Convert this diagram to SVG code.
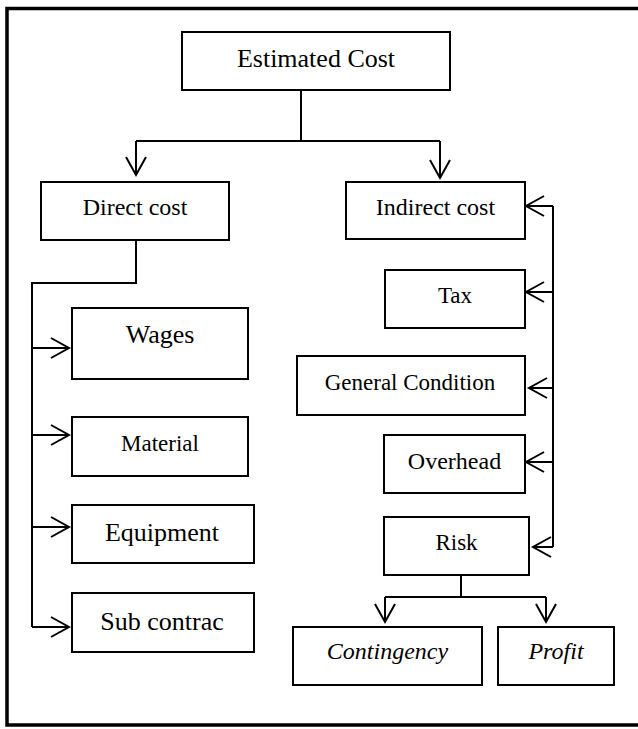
<svg xmlns="http://www.w3.org/2000/svg" width="638" height="729" viewBox="0 0 638 729">
<style>
.box{fill:#fff;stroke:#000;stroke-width:2}
.t{font-family:'Liberation Serif','Times New Roman','DejaVu Serif',serif;fill:#000;text-anchor:middle}
.it{font-style:italic}
.c{fill:none;stroke:#000;stroke-width:2}
</style>
<defs>
<marker id="ah" markerUnits="userSpaceOnUse" markerWidth="24" markerHeight="26" viewBox="-20 -12 24 24" refX="0" refY="0" orient="auto">
<path d="M-18,-10 L0,0 L-18,10" fill="none" stroke="#000" stroke-width="2"/>
</marker>
</defs>
<rect width="638" height="729" fill="#fff"/>
<path d="M645,8.5 H7 V725 H645" fill="none" stroke="#000" stroke-width="3.5"/>
<g id="connectors">
<path class="c" d="M301,90 V141"/>
<path class="c" d="M136,141 H440"/>
<path class="c" d="M136,141 V175" marker-end="url(#ah)"/>
<path class="c" d="M440,141 V178" marker-end="url(#ah)"/>
<path class="c" d="M136,240 V283 H32 V627"/>
<path class="c" d="M32,348 H69" marker-end="url(#ah)"/>
<path class="c" d="M32,435 H69" marker-end="url(#ah)"/>
<path class="c" d="M32,527 H69" marker-end="url(#ah)"/>
<path class="c" d="M32,627 H69" marker-end="url(#ah)"/>
<path class="c" d="M553,206 V547"/>
<path class="c" d="M553,206 H526" marker-end="url(#ah)"/>
<path class="c" d="M553,292 H526" marker-end="url(#ah)"/>
<path class="c" d="M553,388 H529" marker-end="url(#ah)"/>
<path class="c" d="M553,462 H526" marker-end="url(#ah)"/>
<path class="c" d="M553,547 H533" marker-end="url(#ah)"/>
<path class="c" d="M461,575 V597"/>
<path class="c" d="M385,597 H546"/>
<path class="c" d="M385,597 V622" marker-end="url(#ah)"/>
<path class="c" d="M546,597 V622" marker-end="url(#ah)"/>
</g>
<g id="estimated-cost"><rect class="box" x="182" y="32" width="268" height="58"/><text class="t" x="316" y="67" font-size="26">Estimated Cost</text></g>
<g id="direct-cost"><rect class="box" x="41" y="182" width="188" height="58"/><text class="t" x="135" y="215" font-size="24">Direct cost</text></g>
<g id="indirect-cost"><rect class="box" x="346" y="182" width="179" height="57"/><text class="t" x="435.5" y="215" font-size="24">Indirect cost</text></g>
<g id="wages"><rect class="box" x="72" y="308" width="176" height="71"/><text class="t" x="160" y="343" font-size="26">Wages</text></g>
<g id="material"><rect class="box" x="72" y="417" width="176" height="59"/><text class="t" x="160" y="451" font-size="23">Material</text></g>
<g id="equipment"><rect class="box" x="72" y="505" width="182" height="58"/><text class="t" x="162" y="541" font-size="26">Equipment</text></g>
<g id="sub-contrac"><rect class="box" x="72" y="593" width="182" height="59"/><text class="t" x="162" y="630" font-size="26">Sub contrac</text></g>
<g id="tax"><rect class="box" x="385" y="270" width="140" height="58"/><text class="t" x="455" y="303" font-size="23">Tax</text></g>
<g id="general-condition"><rect class="box" x="297" y="356" width="228" height="59"/><text class="t" x="410" y="390" font-size="23">General Condition</text></g>
<g id="overhead"><rect class="box" x="384" y="435" width="141" height="58"/><text class="t" x="454.5" y="469" font-size="24">Overhead</text></g>
<g id="risk"><rect class="box" x="384" y="517" width="145" height="58"/><text class="t" x="456.5" y="550" font-size="23">Risk</text></g>
<g id="contingency"><rect class="box" x="293" y="627" width="189" height="58"/><text class="t it" x="387.5" y="659" font-size="24">Contingency</text></g>
<g id="profit"><rect class="box" x="498" y="627" width="116" height="58"/><text class="t it" x="556" y="659" font-size="24">Profit</text></g>
</svg>
